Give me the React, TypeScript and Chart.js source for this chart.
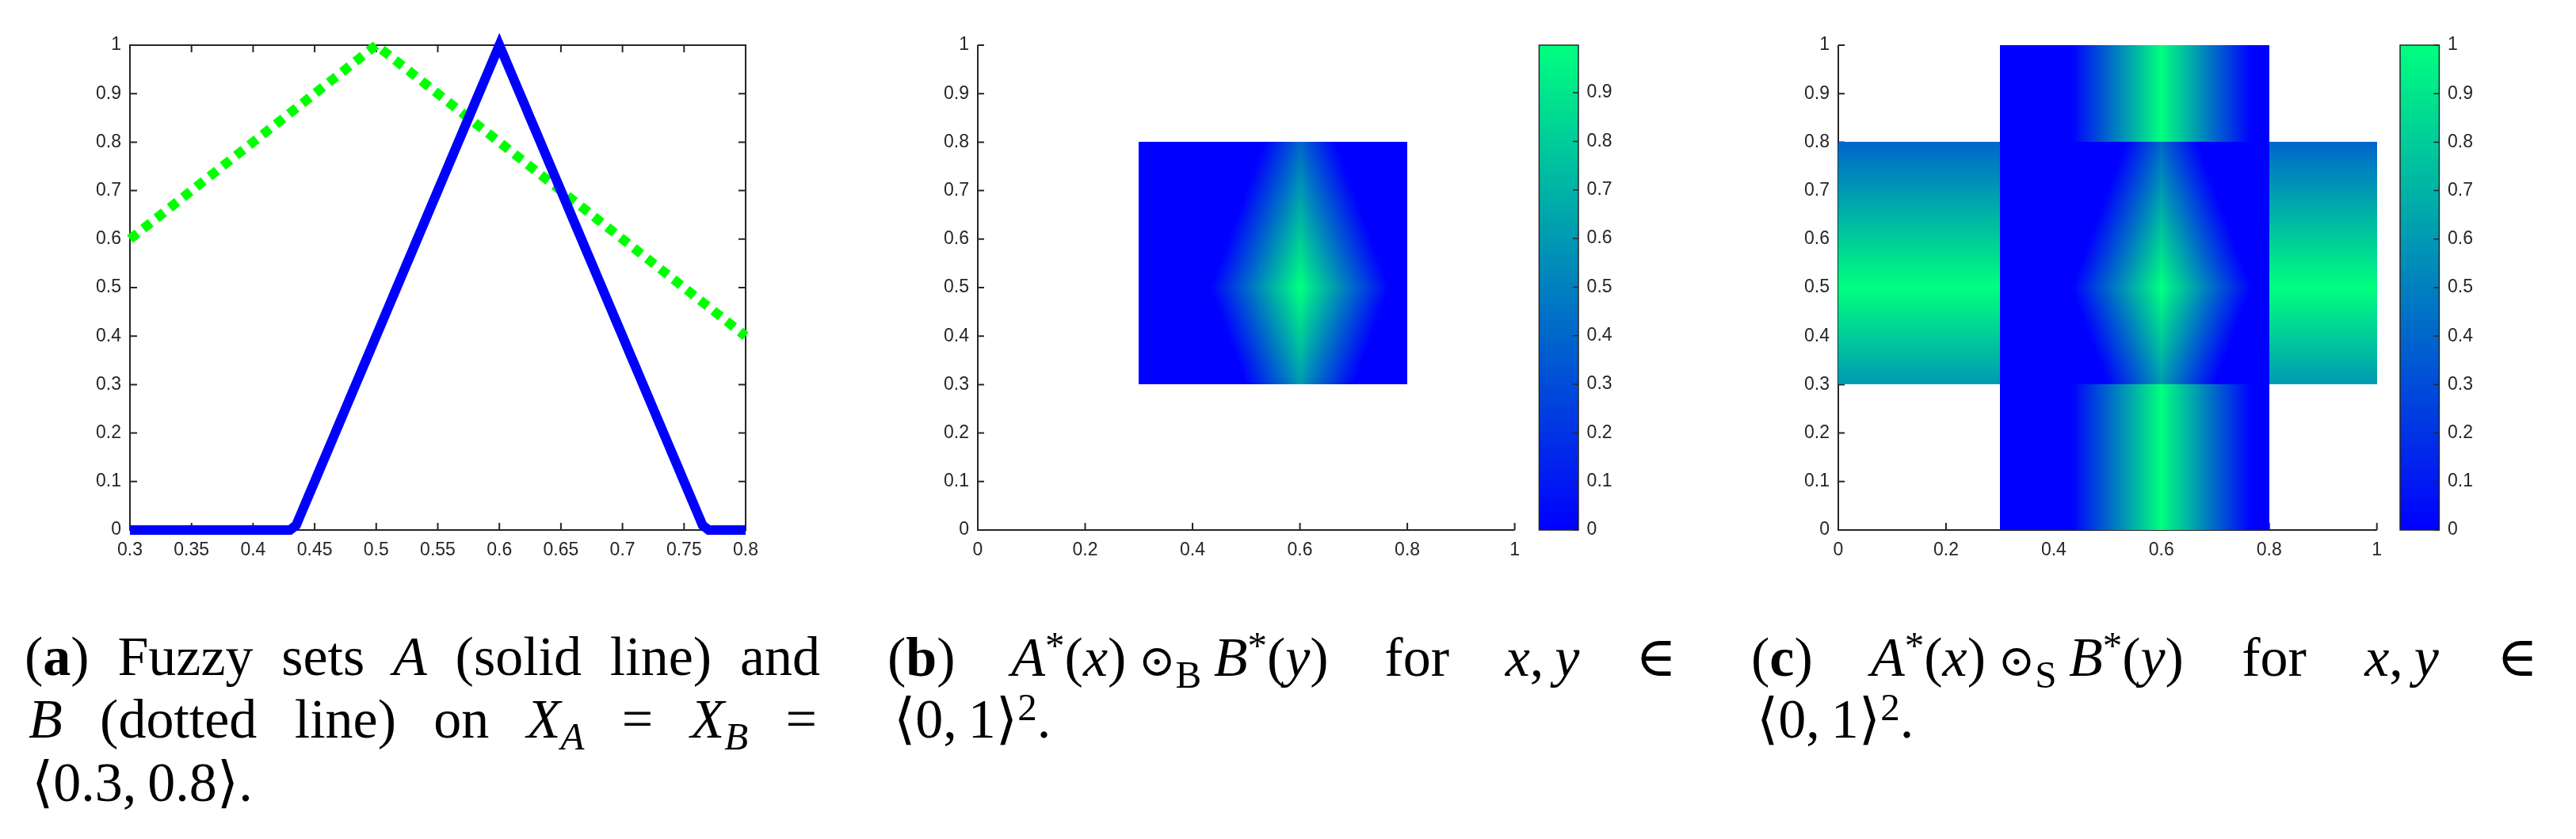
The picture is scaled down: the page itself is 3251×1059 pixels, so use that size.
import React, { useEffect, useRef } from "react";
import { Chart, registerables } from "chart.js";
Chart.register(...registerables);

// ---------- data ----------
// common universe X_A = X_B = <0.3, 0.8>, sampled every 0.005
const X_GRID: number[] = Array.from({ length: 101 }, (_, k) => Math.round((300 + 5 * k)) / 1000);
const Y_GRID: number[] = X_GRID;
const SUPPORT: [number, number] = [0.3, 0.8];

// fuzzy set A (solid blue line), membership at X_GRID
const A_VALUES: number[] = [
  0, 0, 0, 0, 0, 0, 0, 0, 0, 0,
  0, 0, 0, 0, 0, 0, 0, 0, 0, 0,
  0, 0, 0, 0, 0, 0, 0,
  0.01, 0.04, 0.07, 0.1, 0.13, 0.16, 0.19, 0.22, 0.25, 0.28,
  0.31, 0.34, 0.37, 0.4, 0.43, 0.46, 0.49, 0.52, 0.55, 0.58,
  0.61, 0.64, 0.67, 0.7, 0.73, 0.76, 0.79, 0.82, 0.85, 0.88,
  0.91, 0.94, 0.97, 1.0,
  0.97, 0.94, 0.91, 0.88, 0.85, 0.82, 0.79, 0.76, 0.73, 0.7,
  0.67, 0.64, 0.61, 0.58, 0.55, 0.52, 0.49, 0.46, 0.43, 0.4,
  0.37, 0.34, 0.31, 0.28, 0.25, 0.22, 0.19, 0.16, 0.13, 0.1,
  0.07, 0.04, 0.01,
  0, 0, 0, 0, 0, 0, 0,
];

// fuzzy set B (dotted green line), membership at Y_GRID
const B_VALUES: number[] = [
  0.6, 0.61, 0.62, 0.63, 0.64, 0.65, 0.66, 0.67, 0.68, 0.69,
  0.7, 0.71, 0.72, 0.73, 0.74, 0.75, 0.76, 0.77, 0.78, 0.79,
  0.8, 0.81, 0.82, 0.83, 0.84, 0.85, 0.86, 0.87, 0.88, 0.89,
  0.9, 0.91, 0.92, 0.93, 0.94, 0.95, 0.96, 0.97, 0.98, 0.99,
  1.0,
  0.99, 0.98, 0.97, 0.96, 0.95, 0.94, 0.93, 0.92, 0.91, 0.9,
  0.89, 0.88, 0.87, 0.86, 0.85, 0.84, 0.83, 0.82, 0.81, 0.8,
  0.79, 0.78, 0.77, 0.76, 0.75, 0.74, 0.73, 0.72, 0.71, 0.7,
  0.69, 0.68, 0.67, 0.66, 0.65, 0.64, 0.63, 0.62, 0.61, 0.6,
  0.59, 0.58, 0.57, 0.56, 0.55, 0.54, 0.53, 0.52, 0.51, 0.5,
  0.49, 0.48, 0.47, 0.46, 0.45, 0.44, 0.43, 0.42, 0.41, 0.4,
];

// ticks
const A_X_TICKS = [0.3, 0.35, 0.4, 0.45, 0.5, 0.55, 0.6, 0.65, 0.7, 0.75, 0.8];
const A_X_LABELS = ["0.3", "0.35", "0.4", "0.45", "0.5", "0.55", "0.6", "0.65", "0.7", "0.75", "0.8"];
const UNIT_TICKS = [0, 0.1, 0.2, 0.3, 0.4, 0.5, 0.6, 0.7, 0.8, 0.9, 1];
const UNIT_LABELS = ["0", "0.1", "0.2", "0.3", "0.4", "0.5", "0.6", "0.7", "0.8", "0.9", "1"];
const HEAT_X_TICKS = [0, 0.2, 0.4, 0.6, 0.8, 1];
const HEAT_X_LABELS = ["0", "0.2", "0.4", "0.6", "0.8", "1"];
const CB_B_TICKS = [0, 0.1, 0.2, 0.3, 0.4, 0.5, 0.6, 0.7, 0.8, 0.9];
const CB_B_LABELS = ["0", "0.1", "0.2", "0.3", "0.4", "0.5", "0.6", "0.7", "0.8", "0.9"];
const CB_B_MAX = 0.998;
const CB_C_MAX = 1;

// ---------- styling ----------
const AXIS_COLOR = "#262626";
const TICK_FONT = { family: "'Liberation Sans', Arial, sans-serif", size: 23 };
const SERIF = "'Liberation Serif', 'DejaVu Serif', serif";
const PLOT_TOP = 57;
const CANVAS_H = 730;
const X_AXIS_H = 61; // -> plot bottom at 669

// ---------- helpers ----------
const boldIntersection = (a: number, b: number) => Math.max(0, a + b - 1);

function winter(t: number): string {
  const c = Math.max(0, Math.min(1, t));
  return `rgb(0,${Math.round(255 * c)},${Math.round(255 * (1 - 0.5 * c))})`;
}

function cellEdges(grid: number[], lo: number, hi: number): number[] {
  const e = [lo];
  for (let k = 0; k < grid.length - 1; k++) e.push((grid[k] + grid[k + 1]) / 2);
  e.push(hi);
  return e;
}

function fixedTicks(values: number[]) {
  return (s: any) => {
    s.ticks = values.map((v) => ({ value: v }));
  };
}

function drawAxes(chart: any, box: boolean, xTicks: number[], yTicks: number[], tx: number, ty: number) {
  const { ctx, chartArea } = chart;
  const { left, right, top, bottom } = chartArea;
  const xs = chart.scales.x;
  const ys = chart.scales.y;
  ctx.save();
  ctx.strokeStyle = AXIS_COLOR;
  ctx.lineWidth = 2;
  ctx.beginPath();
  if (box) {
    ctx.rect(left, top, right - left, bottom - top);
  } else {
    ctx.moveTo(left, top);
    ctx.lineTo(left, bottom);
    ctx.lineTo(right, bottom);
  }
  for (const v of xTicks) {
    const px = xs.getPixelForValue(v);
    ctx.moveTo(px, bottom);
    ctx.lineTo(px, bottom - tx);
    if (box) {
      ctx.moveTo(px, top);
      ctx.lineTo(px, top + tx);
    }
  }
  for (const v of yTicks) {
    const py = ys.getPixelForValue(v);
    ctx.moveTo(left, py);
    ctx.lineTo(left + ty, py);
    if (box) {
      ctx.moveTo(right, py);
      ctx.lineTo(right - ty, py);
    }
  }
  ctx.stroke();
  ctx.restore();
}

function axisCommon(ticks: number[], labels: string[], padding: number) {
  return {
    type: "linear" as const,
    afterBuildTicks: fixedTicks(ticks),
    ticks: {
      callback: (_v: any, i: number) => labels[i],
      padding,
      font: TICK_FONT,
      color: AXIS_COLOR,
      autoSkip: false,
      maxRotation: 0,
    },
    grid: { display: false, drawTicks: false },
    border: { display: false },
  };
}

// ---------- chart configs ----------
function lineConfig(): any {
  return {
    type: "line",
    data: {
      datasets: [
        {
          label: "A",
          data: X_GRID.map((x, k) => ({ x, y: A_VALUES[k] })),
          borderColor: "#0000ff",
          borderWidth: 12,
          pointRadius: 0,
          clip: false,
        },
        {
          label: "B",
          data: X_GRID.map((x, k) => ({ x, y: B_VALUES[k] })),
          borderColor: "#00ff00",
          borderWidth: 12,
          borderDash: [12, 9.3],
          pointRadius: 0,
          clip: false,
        },
      ],
    },
    options: {
      animation: false,
      responsive: false,
      devicePixelRatio: 1,
      layout: { padding: { left: 0, top: PLOT_TOP, right: 59, bottom: 0 } },
      scales: {
        x: {
          ...axisCommon(A_X_TICKS, A_X_LABELS, 12),
          min: 0.3,
          max: 0.8,
          position: "bottom",
          afterFit: (s: any) => { s.height = X_AXIS_H; },
        },
        y: {
          ...axisCommon(UNIT_TICKS, UNIT_LABELS, 11),
          min: 0,
          max: 1,
          position: "left",
          afterFit: (s: any) => { s.width = 164; },
        },
      },
      plugins: { legend: { display: false }, tooltip: { enabled: false } },
    },
    plugins: [
      {
        id: "matlabAxesA",
        beforeDatasetsDraw(chart: any) {
          drawAxes(chart, true, A_X_TICKS, UNIT_TICKS, 9, 9);
        },
      },
    ],
  };
}

function heatConfig(kind: "B" | "S", leftWidth: number, rightPad: number): any {
  const cmax = kind === "B" ? CB_B_MAX : CB_C_MAX;
  const xEdges = cellEdges(X_GRID, SUPPORT[0], SUPPORT[1]);
  const yEdges = cellEdges(Y_GRID, SUPPORT[0], SUPPORT[1]);
  return {
    type: "scatter",
    data: { datasets: [{ data: [] }] },
    options: {
      animation: false,
      responsive: false,
      devicePixelRatio: 1,
      layout: { padding: { left: 0, top: PLOT_TOP, right: rightPad, bottom: 0 } },
      scales: {
        x: {
          ...axisCommon(HEAT_X_TICKS, HEAT_X_LABELS, 12),
          min: 0,
          max: 1,
          position: "bottom",
          afterFit: (s: any) => { s.height = X_AXIS_H; },
        },
        y: {
          ...axisCommon(UNIT_TICKS, UNIT_LABELS, 11),
          min: 0,
          max: 1,
          position: "left",
          afterFit: (s: any) => { s.width = leftWidth; },
        },
      },
      plugins: { legend: { display: false }, tooltip: { enabled: false } },
    },
    plugins: [
      {
        id: "heatmap" + kind,
        beforeDatasetsDraw(chart: any) {
          drawAxes(chart, false, HEAT_X_TICKS, UNIT_TICKS, 9, 8);
          const { ctx } = chart;
          const xs = chart.scales.x;
          const ys = chart.scales.y;
          const px = xEdges.map((v) => Math.round(xs.getPixelForValue(v)));
          const py = yEdges.map((v) => Math.round(ys.getPixelForValue(v)));
          ctx.save();
          const cell = (x0: number, x1: number, y0: number, y1: number, v: number) => {
            ctx.fillStyle = winter(v / cmax);
            ctx.fillRect(x0, y1, x1 - x0, y0 - y1);
          };
          if (kind === "S") {
            const p0 = Math.round(xs.getPixelForValue(0));
            const p1 = Math.round(xs.getPixelForValue(1));
            const q0 = Math.round(ys.getPixelForValue(0));
            const q1 = Math.round(ys.getPixelForValue(1));
            const qLo = py[0];
            const qHi = py[py.length - 1];
            const pLo = px[0];
            const pHi = px[px.length - 1];
            for (let i = 0; i < A_VALUES.length; i++) {
              cell(px[i], px[i + 1], qHi, q1, A_VALUES[i]); // top strip
              cell(px[i], px[i + 1], q0, qLo, A_VALUES[i]); // bottom strip
            }
            for (let j = 0; j < B_VALUES.length; j++) {
              cell(p0, pLo, py[j], py[j + 1], B_VALUES[j]); // left side
              cell(pHi, p1, py[j], py[j + 1], B_VALUES[j]); // right side
            }
          }
          for (let i = 0; i < A_VALUES.length; i++) {
            for (let j = 0; j < B_VALUES.length; j++) {
              cell(px[i], px[i + 1], py[j], py[j + 1], boldIntersection(A_VALUES[i], B_VALUES[j]));
            }
          }
          ctx.restore();
        },
      },
    ],
  };
}

function colorbarConfig(max: number, ticks: number[], labels: string[], leftPad: number, axisWidth: number): any {
  return {
    type: "scatter",
    data: { datasets: [{ data: [] }] },
    options: {
      animation: false,
      responsive: false,
      devicePixelRatio: 1,
      layout: { padding: { left: leftPad, top: PLOT_TOP, right: 0, bottom: X_AXIS_H } },
      scales: {
        x: { type: "linear", display: false, min: 0, max: 1 },
        y: {
          ...axisCommon(ticks, labels, 10.6),
          min: 0,
          max,
          position: "right",
          afterFit: (s: any) => { s.width = axisWidth; },
        },
      },
      plugins: { legend: { display: false }, tooltip: { enabled: false } },
    },
    plugins: [
      {
        id: "colorbar",
        beforeDatasetsDraw(chart: any) {
          const { ctx, chartArea } = chart;
          const { left, right, top, bottom } = chartArea;
          const ys = chart.scales.y;
          const n = 256;
          ctx.save();
          for (let k = 0; k < n; k++) {
            const y0 = Math.round(ys.getPixelForValue((max * k) / n));
            const y1 = Math.round(ys.getPixelForValue((max * (k + 1)) / n));
            ctx.fillStyle = winter((k + 0.5) / n);
            ctx.fillRect(left, y1, right - left, y0 - y1);
          }
          ctx.strokeStyle = AXIS_COLOR;
          ctx.lineWidth = 1.5;
          ctx.strokeRect(left, top, right - left, bottom - top);
          ctx.beginPath();
          for (const v of ticks) {
            const p = ys.getPixelForValue(v);
            ctx.moveTo(right, p);
            ctx.lineTo(right - 7, p);
          }
          ctx.stroke();
          ctx.restore();
        },
      },
    ],
  };
}

// ---------- components ----------
function ChartCanvas(props: { left: number; width: number; make: () => any }) {
  const ref = useRef<HTMLCanvasElement>(null);
  useEffect(() => {
    const chart = new Chart(ref.current as HTMLCanvasElement, props.make());
    return () => chart.destroy();
  }, []);
  return (
    <canvas
      ref={ref}
      width={props.width}
      height={CANVAS_H}
      style={{ position: "absolute", left: props.left, top: 0, width: props.width, height: CANVAS_H }}
    />
  );
}

const Sub = (p: { children: any }) => (
  <span style={{ fontSize: "0.7em", position: "relative", top: "0.3em", lineHeight: 0 }}>{p.children}</span>
);
const Sup = (p: { children: any }) => (
  <span style={{ fontSize: "0.7em", position: "relative", top: "-0.45em", lineHeight: 0 }}>{p.children}</span>
);

function Line(p: { left: number; width?: number; baseline: number; justify?: boolean; children: any }) {
  return (
    <div
      style={{
        position: "absolute",
        left: p.left,
        width: p.width,
        top: p.baseline - 63.6,
        height: 80,
        lineHeight: "80px",
        fontSize: 70,
        fontFamily: SERIF,
        color: "#000",
        whiteSpace: "nowrap",
        display: "flex",
        alignItems: "baseline",
        justifyContent: p.justify ? "space-between" : "flex-start",
      }}
    >
      {p.children}
    </div>
  );
}

function Odot(p: { sub: string }) {
  return (
    <span style={{ margin: "0 0.22em" }}>
      <span style={{ fontFamily: "'DejaVu Serif', serif", fontSize: "0.8em" }}>⊙</span>
      <Sub>{p.sub}</Sub>
    </span>
  );
}

function Captions() {
  return (
    <>
      <Line left={31} width={1004} baseline={853} justify>
        <span>(<b>a</b>)</span>
        <span>Fuzzy</span>
        <span>sets</span>
        <span><i>A</i></span>
        <span>(solid</span>
        <span>line)</span>
        <span>and</span>
      </Line>
      <Line left={36} width={995} baseline={932} justify>
        <span><i>B</i></span>
        <span>(dotted</span>
        <span>line)</span>
        <span>on</span>
        <span><i>X</i><Sub><i>A</i></Sub></span>
        <span>=</span>
        <span><i>X</i><Sub><i>B</i></Sub></span>
        <span>=</span>
      </Line>
      <Line left={40} baseline={1012}>
        <span>⟨0.3,&thinsp;0.8⟩.</span>
      </Line>

      <Line left={1120} width={996} baseline={854} justify>
        <span>(<b>b</b>)</span>
        <span>
          <i>A</i><Sup>*</Sup>(<i>x</i>)<Odot sub="B" /><i>B</i><Sup>*</Sup>(<i>y</i>)
        </span>
        <span>for</span>
        <span><i>x</i>,&thinsp;<i>y</i></span>
        <span>∈</span>
      </Line>
      <Line left={1128} baseline={932}>
        <span>⟨0,&thinsp;1⟩<Sup>2</Sup>.</span>
      </Line>

      <Line left={2210} width={993} baseline={854} justify>
        <span>(<b>c</b>)</span>
        <span>
          <i>A</i><Sup>*</Sup>(<i>x</i>)<Odot sub="S" /><i>B</i><Sup>*</Sup>(<i>y</i>)
        </span>
        <span>for</span>
        <span><i>x</i>,&thinsp;<i>y</i></span>
        <span>∈</span>
      </Line>
      <Line left={2217} baseline={932}>
        <span>⟨0,&thinsp;1⟩<Sup>2</Sup>.</span>
      </Line>
    </>
  );
}

export default function App() {
  return (
    <div
      style={{
        position: "absolute",
        left: 0,
        top: 0,
        width: 3251,
        height: 1059,
        background: "#ffffff",
        overflow: "hidden",
      }}
    >
      <ChartCanvas left={0} width={1000} make={lineConfig} />
      <ChartCanvas left={1100} width={830} make={() => heatConfig("B", 134, 16.5)} />
      <ChartCanvas left={1930} width={110} make={() => colorbarConfig(CB_B_MAX, CB_B_TICKS, CB_B_LABELS, 12.4, 48)} />
      <ChartCanvas left={2190} width={830} make={() => heatConfig("S", 130, 20.3)} />
      <ChartCanvas left={3020} width={130} make={() => colorbarConfig(CB_C_MAX, UNIT_TICKS, UNIT_LABELS, 9, 71.6)} />
      <Captions />
    </div>
  );
}
